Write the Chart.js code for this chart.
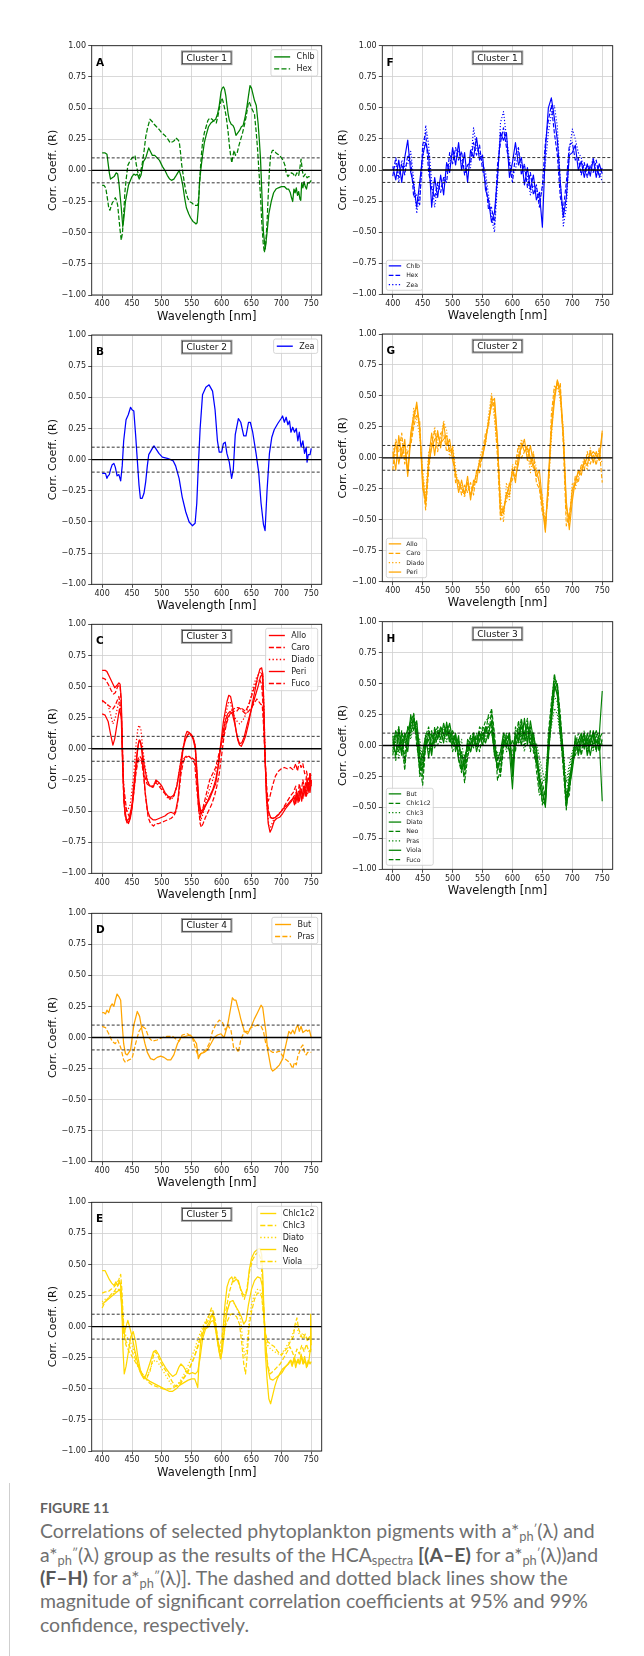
<!DOCTYPE html>
<html><head><meta charset="utf-8">
<script src="https://cdn.jsdelivr.net/npm/chart.js@4.4.1/dist/chart.umd.min.js"></script>
<style>
html,body{margin:0;padding:0;background:#fff;}
body{width:644px;height:1656px;position:relative;overflow:hidden;}
canvas{position:absolute;}
#bar{position:absolute;left:8.5px;top:1483px;width:1.6px;height:173px;background:#cfcfcf;}
#fig{position:absolute;left:40px;top:1501px;font-family:Lato,"Open Sans",sans-serif;font-weight:700;font-size:14px;line-height:14px;color:#606060;white-space:nowrap;}
.cl{position:absolute;left:40px;white-space:nowrap;font-family:Lato,"Open Sans",sans-serif;font-size:18px;line-height:24px;height:24px;color:#707070;}
.cl b{color:#585858;}
.sb{font-size:0.66em;vertical-align:-0.24em;line-height:0;}
.sp{font-size:0.6em;vertical-align:0.42em;line-height:0;}
</style></head><body>
<div id="bar"></div>
<div id="fig">FIGURE 11</div>
<div class="cl" id="l1">Correlations of selected phytoplankton pigments with a*<span class="sb">ph</span><span class="sp">′</span>(λ) and</div>
<div class="cl">a*<span class="sb">ph</span><span class="sp">″</span>(λ) group as the results of the HCA<span class="sb">spectra</span> <b>[(A–E)</b> for a*<span class="sb">ph</span><span class="sp">′</span>(λ))and</div>
<div class="cl"><b>(F–H)</b> for a*<span class="sb">ph</span><span class="sp">″</span>(λ)]. The dashed and dotted black lines show the</div>
<div class="cl">magnitude of significant correlation coefficients at 95% and 99%</div>
<div class="cl">confidence, respectively.</div>
<script>
// ---------- axes ----------
const X_TICKS = [400,450,500,550,600,650,700,750];
const Y_TICKS = [-1,-0.75,-0.5,-0.25,0,0.25,0.5,0.75,1];
const SIG_LEVELS = [0.1,-0.1];
const WL5 = [400,405,410,415,420,425,430,435,440,445,450,455,460,465,470,475,480,485,490,495,500,505,510,515,520,525,530,535,540,545,550,555,560,565,570,575,580,585,590,595,600,605,610,615,620,625,630,635,640,645,650,655,660,665,670,675,680,685,690,695,700,705,710,715,720,725,730,735,740,745,750];

// ---------- panel A (Cluster 1) ----------
const A_Chlb = [[400,0.14],[405,0.14],[408,0.13],[412,-0.02],[414,-0.07],[417,-0.06],[420,-0.05],[423.5,-0.02],[426,-0.03],[428,-0.1],[432,-0.3],[434.5,-0.45],[436,-0.4],[439,-0.25],[444,-0.12],[450,-0.05],[453,-0.03],[456,-0.04],[459,-0.03],[462,-0.07],[465,-0.04],[469,0.07],[473,0.1],[476,0.15],[478,0.18],[481,0.15],[484,0.12],[488,0.12],[492,0.1],[496,0.08],[501,0.03],[505,0.0],[509,-0.04],[513,-0.07],[516,-0.08],[520,-0.07],[524,-0.04],[529,0.0],[532,-0.05],[535,-0.12],[538,-0.22],[541,-0.3],[545,-0.35],[548,-0.38],[552,-0.41],[555,-0.42],[557,-0.43],[559,-0.42],[561,-0.3],[563,-0.1],[565,0.0],[568,0.12],[571,0.22],[574,0.28],[578,0.35],[582,0.38],[587,0.4],[590,0.41],[593,0.45],[596,0.52],[599,0.63],[601,0.66],[603,0.67],[605,0.65],[607,0.6],[609,0.52],[611,0.45],[613,0.4],[616,0.37],[619,0.36],[621,0.34],[624,0.28],[627,0.3],[630,0.32],[633,0.35],[636,0.36],[639,0.42],[642,0.5],[645,0.6],[647.5,0.68],[650,0.66],[652,0.62],[655,0.56],[658,0.52],[661,0.38],[663,0.25],[665,0.1],[667.5,-0.2],[670,-0.5],[673,-0.63],[676,-0.5],[679,-0.35],[683,-0.25],[687,-0.18],[691,-0.15],[695,-0.14],[700,-0.13],[705,-0.13],[709,-0.15],[712,-0.15],[715,-0.18],[717,-0.22],[719,-0.25],[721,-0.15],[723,-0.18],[725,-0.14],[727,-0.2],[729,-0.17],[731,-0.23],[732.5,-0.24],[734,-0.1],[736,-0.14],[738,-0.09],[740,-0.13],[742,-0.15],[744,-0.1],[747,-0.1],[750,-0.08]];
const A_Hex = [[400,-0.12],[403,-0.12],[406,-0.14],[408,-0.2],[411,-0.3],[413,-0.32],[415,-0.29],[417,-0.26],[420,-0.24],[422,-0.22],[424,-0.24],[426,-0.28],[428,-0.38],[430,-0.48],[432,-0.56],[434,-0.5],[436,-0.35],[438,-0.18],[440,-0.08],[443,0.04],[446,0.07],[450,0.1],[453,0.11],[455,0.12],[457,0.05],[459,0.0],[461.5,-0.05],[464,-0.02],[467,0.05],[470,0.15],[473,0.27],[476,0.34],[480,0.41],[484,0.39],[487,0.37],[491,0.35],[495,0.33],[500,0.3],[505,0.28],[510,0.25],[514,0.22],[518,0.23],[521,0.24],[523,0.26],[526,0.25],[529,0.23],[531,0.15],[533,0.05],[536,-0.05],[540,-0.17],[543,-0.22],[546,-0.25],[550,-0.26],[554,-0.28],[558,-0.28],[560,-0.28],[562,-0.2],[564,-0.02],[566,0.12],[568,0.22],[571,0.3],[574,0.35],[577,0.4],[580,0.42],[584,0.41],[588,0.39],[591,0.38],[594,0.44],[597,0.52],[600,0.58],[602,0.56],[604,0.52],[607,0.45],[609,0.38],[611,0.3],[613,0.2],[615,0.12],[617,0.06],[619,0.12],[621,0.16],[623,0.12],[626,0.14],[629,0.2],[632,0.25],[635,0.3],[638,0.36],[641,0.43],[645,0.55],[647,0.54],[650,0.5],[653,0.47],[655,0.45],[658,0.3],[660,0.18],[663,-0.05],[665,-0.2],[667,-0.4],[669.5,-0.58],[671.5,-0.66],[674,-0.58],[676,-0.42],[678,-0.2],[680,0.0],[682,0.12],[685,0.16],[688,0.16],[691,0.14],[694,0.13],[697,0.12],[700,0.1],[703,0.08],[706,0.04],[708,-0.02],[711,-0.05],[714,-0.03],[717,-0.02],[720,-0.03],[723,-0.05],[726,-0.02],[729,-0.04],[731,0.02],[733,0.09],[735,0.0],[737,-0.05],[740,-0.03],[743,-0.06],[746,-0.05],[750,-0.05]];

// ---------- panel B (Cluster 2) ----------
const B_Zea = [[400,-0.11],[403,-0.11],[405.6,-0.11],[408,-0.15],[410,-0.13],[412,-0.12],[414,-0.08],[416.8,-0.04],[419.6,-0.03],[422,-0.06],[425,-0.13],[428,-0.12],[431,-0.17],[433.6,-0.05],[436,0.15],[440,0.32],[443.7,0.36],[447.6,0.42],[450,0.4],[453,0.39],[456,0.2],[458.8,0.0],[461.6,-0.2],[464,-0.31],[467,-0.31],[470,-0.27],[472.8,-0.18],[475.6,-0.05],[478,0.04],[484,0.09],[486.8,0.11],[489.6,0.09],[495,0.05],[500.8,0.02],[509,0.01],[514.8,0.0],[519,-0.01],[523,-0.05],[528.8,-0.15],[534,-0.3],[540,-0.42],[545.6,-0.5],[551,-0.53],[555.6,-0.51],[558.4,-0.35],[561,-0.05],[564,0.25],[568,0.52],[573.6,0.58],[579,0.6],[584.8,0.55],[589,0.4],[593,0.15],[596,0.06],[600,0.06],[603,0.13],[606,0.14],[608.8,0.05],[612.8,-0.02],[616.7,-0.15],[619.5,-0.08],[622.8,0.2],[628,0.33],[632,0.3],[637,0.19],[640.8,0.19],[645,0.3],[648,0.3],[652,0.22],[657.6,0.05],[662,-0.1],[666,-0.35],[670,-0.52],[672.7,-0.57],[676,-0.25],[680,0.05],[684,0.18],[688,0.24],[694,0.29],[699.6,0.33],[702,0.35],[705,0.3],[708,0.34],[711,0.28],[713.6,0.31],[716,0.22],[719,0.26],[722,0.22],[725,0.25],[727.6,0.15],[730,0.22],[733,0.1],[736,0.15],[738.8,0.05],[741.6,0.1],[743,-0.02],[745,0.04],[748,0.04],[750,0.09]];

// ---------- panel C (Cluster 3) ----------
const C_Allo = [[400,0.63],[405,0.63],[408,0.62],[412,0.58],[417,0.53],[421,0.49],[425,0.51],[428,0.53],[430,0.52],[432,0.4],[434,0.0],[436,-0.35],[438,-0.52],[441,-0.58],[444,-0.6],[447,-0.56],[450,-0.48],[454,-0.3],[457,-0.12],[460,0.02],[462,0.07],[464,0.06],[466,0.0],[469,-0.15],[472,-0.35],[476,-0.5],[480,-0.55],[485,-0.57],[490,-0.57],[495,-0.56],[500,-0.55],[505,-0.54],[510,-0.52],[515,-0.51],[520,-0.52],[523,-0.5],[527,-0.4],[531,-0.2],[535,-0.02],[539,0.1],[542,0.14],[546,0.13],[550,0.11],[553,0.08],[556,0.02],[559,-0.2],[562,-0.42],[565,-0.5],[568,-0.49],[572,-0.46],[576,-0.43],[580,-0.4],[585,-0.34],[590,-0.28],[594,-0.15],[597,-0.02],[600,0.1],[603,0.22],[606,0.3],[609,0.38],[612,0.43],[615,0.42],[618,0.35],[621,0.25],[624,0.15],[627,0.07],[630,0.03],[633,0.02],[636,0.05],[640,0.1],[645,0.2],[650,0.33],[655,0.45],[660,0.57],[664,0.64],[667,0.65],[669,0.6],[671,0.3],[673,-0.1],[675,-0.4],[678,-0.6],[681,-0.67],[684,-0.64],[688,-0.58],[692,-0.56],[697,-0.55],[702,-0.52],[707,-0.48],[712,-0.45],[717,-0.42],[721,-0.38],[724,-0.44],[727,-0.36],[730,-0.42],[733,-0.33],[736,-0.4],[739,-0.3],[742,-0.38],[745,-0.27],[748,-0.35],[750,-0.25]];
const C_Caro = [[400,0.57],[405,0.56],[410,0.52],[415,0.47],[419,0.44],[422,0.45],[426,0.5],[430,0.51],[432,0.35],[434,-0.05],[436,-0.4],[439,-0.55],[442,-0.6],[445,-0.58],[449,-0.5],[453,-0.35],[457,-0.18],[460,-0.1],[463,-0.08],[466,-0.1],[469,-0.2],[473,-0.4],[477,-0.55],[481,-0.6],[486,-0.62],[490,-0.6],[495,-0.6],[500,-0.59],[505,-0.58],[510,-0.57],[515,-0.56],[520,-0.54],[524,-0.5],[528,-0.38],[532,-0.2],[536,-0.1],[540,-0.07],[545,-0.06],[550,-0.07],[555,-0.09],[558,-0.2],[561,-0.45],[564,-0.6],[566,-0.63],[569,-0.6],[573,-0.55],[578,-0.5],[583,-0.45],[588,-0.38],[592,-0.3],[596,-0.2],[600,-0.05],[604,0.1],[608,0.2],[612,0.26],[616,0.3],[620,0.32],[624,0.33],[628,0.33],[632,0.32],[636,0.3],[640,0.28],[645,0.3],[650,0.33],[655,0.37],[659,0.4],[662,0.38],[665,0.36],[668,0.35],[670,0.2],[672,0.0],[674,-0.2],[676,-0.35],[678,-0.42],[681,-0.38],[685,-0.3],[690,-0.22],[695,-0.18],[700,-0.16],[705,-0.15],[710,-0.16],[715,-0.15],[720,-0.17],[724,-0.12],[727,-0.18],[730,-0.1],[733,-0.15],[736,-0.12],[739,-0.2],[742,-0.18],[745,-0.25],[748,-0.2],[750,-0.22]];
const C_Diado = [[400,0.38],[405,0.37],[410,0.35],[414,0.28],[418,0.2],[422,0.25],[428,0.38],[432,0.3],[435,-0.2],[438,-0.45],[442,-0.5],[447,-0.45],[453,-0.2],[457,0.05],[460,0.17],[462,0.19],[465,0.15],[468,0.0],[472,-0.15],[476,-0.25],[480,-0.3],[485,-0.3],[490,-0.26],[495,-0.28],[500,-0.32],[505,-0.36],[510,-0.4],[515,-0.41],[520,-0.38],[525,-0.3],[530,-0.15],[535,0.0],[540,0.08],[545,0.12],[550,0.1],[555,0.05],[558,-0.15],[562,-0.5],[565,-0.58],[570,-0.5],[575,-0.4],[580,-0.32],[585,-0.25],[590,-0.18],[595,-0.08],[600,0.05],[604,0.18],[608,0.3],[612,0.38],[615,0.37],[618,0.3],[622,0.25],[626,0.22],[630,0.2],[634,0.22],[638,0.25],[642,0.3],[647,0.38],[652,0.48],[657,0.56],[662,0.6],[666,0.62],[669,0.58],[671,0.3],[673,-0.1],[676,-0.45],[679,-0.62],[682,-0.63],[686,-0.58],[690,-0.55],[700,-0.5],[710,-0.45],[720,-0.4],[725,-0.35],[728,-0.4],[732,-0.32],[736,-0.38],[740,-0.3],[744,-0.36],[748,-0.28],[750,-0.3]];
const C_Peri = [[400,0.28],[405,0.27],[410,0.22],[414,0.12],[418,0.03],[421,0.08],[425,0.2],[429,0.32],[432,0.25],[434,-0.1],[437,-0.45],[441,-0.58],[445,-0.56],[450,-0.45],[454,-0.25],[458,-0.05],[461,0.05],[463,0.07],[466,0.02],[470,-0.12],[475,-0.25],[480,-0.3],[486,-0.3],[490,-0.25],[495,-0.27],[500,-0.3],[505,-0.35],[510,-0.38],[515,-0.39],[520,-0.37],[525,-0.3],[530,-0.15],[535,0.0],[540,0.08],[544,0.12],[548,0.12],[552,0.08],[556,0.0],[559,-0.25],[562,-0.45],[565,-0.52],[569,-0.5],[574,-0.45],[580,-0.38],[585,-0.33],[590,-0.25],[595,-0.12],[598,0.0],[602,0.12],[606,0.22],[610,0.28],[614,0.3],[618,0.28],[622,0.2],[626,0.1],[630,0.04],[634,0.05],[638,0.1],[643,0.2],[650,0.32],[656,0.42],[661,0.5],[665,0.58],[668,0.6],[670,0.4],[672,0.0],[675,-0.35],[678,-0.5],[682,-0.55],[686,-0.56],[690,-0.55],[695,-0.53],[700,-0.5],[705,-0.47],[710,-0.45],[715,-0.42],[719,-0.4],[722,-0.45],[725,-0.35],[728,-0.43],[731,-0.33],[734,-0.42],[737,-0.3],[740,-0.38],[743,-0.25],[746,-0.35],[748,-0.2],[750,-0.3]];
const C_Fuco = [[400,0.39],[405,0.37],[410,0.35],[418,0.32],[422,0.35],[428,0.42],[432,0.3],[436,-0.3],[441,-0.5],[446,-0.55],[450,-0.45],[455,-0.2],[460,-0.08],[463,-0.06],[466,-0.08],[470,-0.2],[475,-0.28],[480,-0.3],[485,-0.31],[490,-0.27],[495,-0.3],[500,-0.33],[505,-0.36],[510,-0.39],[515,-0.4],[520,-0.38],[525,-0.3],[530,-0.18],[535,-0.09],[540,-0.06],[545,-0.06],[550,-0.08],[555,-0.12],[558,-0.3],[562,-0.5],[565,-0.55],[570,-0.45],[575,-0.35],[580,-0.25],[585,-0.2],[590,-0.15],[595,-0.05],[600,0.05],[605,0.15],[610,0.25],[615,0.28],[620,0.3],[625,0.3],[630,0.33],[635,0.32],[640,0.3],[645,0.35],[650,0.42],[655,0.5],[660,0.55],[664,0.55],[667,0.52],[670,0.3],[673,-0.1],[676,-0.4],[680,-0.55],[685,-0.56],[690,-0.55],[695,-0.53],[700,-0.5],[705,-0.46],[710,-0.42],[715,-0.38],[720,-0.35],[724,-0.3],[727,-0.4],[730,-0.28],[733,-0.35],[736,-0.25],[739,-0.33],[742,-0.22],[745,-0.3],[748,-0.2],[750,-0.28]];

// ---------- panel D (Cluster 4) ----------
const D_But = [[400,0.2],[403,0.2],[405.6,0.19],[408,0.22],[411,0.2],[414,0.25],[416.8,0.27],[419.6,0.25],[422,0.3],[425,0.35],[428,0.33],[431,0.3],[433.6,0.1],[436,-0.05],[439,-0.13],[442,-0.14],[447.6,-0.1],[453,0.1],[458.8,0.21],[462.7,0.17],[467,0.05],[471.7,-0.05],[475.6,-0.12],[481,-0.17],[486.8,-0.18],[492,-0.16],[498,-0.15],[503.6,-0.16],[509,-0.18],[514.8,-0.18],[520,-0.14],[526,-0.05],[531.6,0.0],[540,0.01],[548,0.02],[554,-0.02],[558,-0.05],[561,-0.17],[565,-0.13],[570.8,-0.12],[576,-0.1],[582,-0.05],[587.6,0.0],[593,0.02],[599,0.03],[604,0.0],[610,0.1],[615.6,0.25],[618,0.32],[621,0.3],[624,0.3],[629.6,0.2],[632,0.15],[638,0.05],[643.6,0.03],[649,0.08],[654.8,0.15],[660,0.2],[666,0.26],[668.8,0.24],[674,0.05],[677,-0.1],[682.8,-0.25],[685.6,-0.27],[691,-0.25],[696.8,-0.22],[702.4,-0.17],[708,-0.05],[712.5,0.05],[716,0.03],[719,0.06],[722,0.03],[725,0.08],[727.6,0.1],[730,0.05],[733,0.09],[736,0.04],[738.8,0.05],[741.6,0.06],[744,0.05],[747,0.06],[750,0.0]];
const D_Pras = [[400,0.09],[405.6,0.08],[411,0.03],[416.8,-0.03],[422,-0.05],[426,-0.02],[431,-0.08],[436,-0.18],[439,-0.2],[444.8,-0.18],[450,-0.17],[456,-0.05],[461.6,0.05],[467,0.09],[472.8,0.07],[478,0.0],[484,-0.03],[492,-0.02],[500.8,0.0],[509,0.01],[517.6,0.01],[523,-0.01],[528.8,-0.03],[534,0.02],[542.8,0.03],[551,0.0],[556.8,-0.1],[561,-0.15],[568,-0.12],[573.6,-0.1],[579,-0.05],[584.8,0.05],[590,0.1],[596,0.14],[601.6,0.12],[606,0.06],[610,0.1],[615.6,0.06],[620,-0.08],[624,-0.08],[628,-0.12],[632,-0.02],[638,0.05],[643.6,0.05],[649,0.08],[654.8,0.09],[660,0.1],[666,0.09],[670,0.05],[674,-0.05],[680,-0.1],[685.6,-0.12],[691,-0.12],[696.8,-0.11],[702.4,-0.15],[708,-0.18],[713.6,-0.2],[719,-0.25],[722,-0.2],[725,-0.22],[727.6,-0.15],[730,-0.12],[733,-0.08],[736,-0.06],[738.8,-0.12],[741.6,-0.14],[744,-0.12],[750,-0.12]];

// ---------- panel E (Cluster 5) ----------
const E_Chlc1c2 = [[400,0.45],[405,0.45],[408,0.42],[412,0.38],[416,0.35],[420,0.33],[423,0.36],[426,0.33],[429,0.37],[431,0.34],[433,0.15],[435,-0.2],[437,-0.38],[440,-0.32],[444,-0.2],[448,-0.08],[452,-0.04],[456,-0.12],[460,-0.25],[464,-0.35],[468,-0.4],[474,-0.42],[480,-0.44],[488,-0.46],[496,-0.48],[504,-0.5],[512,-0.52],[518,-0.52],[524,-0.5],[530,-0.47],[537,-0.45],[544,-0.43],[550,-0.42],[555,-0.42],[558,-0.46],[560,-0.49],[562,-0.3],[565,-0.12],[570,-0.03],[575,0.0],[580,0.04],[584,0.1],[587,0.06],[590,0.0],[593,-0.1],[596,-0.2],[599,-0.25],[602,-0.05],[605,0.15],[609,0.32],[613,0.38],[617,0.4],[620,0.36],[624,0.38],[628,0.37],[632,0.3],[636,0.26],[640,0.25],[643,0.3],[646,0.45],[650,0.55],[655,0.6],[660,0.62],[664,0.63],[667,0.58],[669,0.4],[671,0.1],[673,-0.2],[676,-0.42],[679,-0.58],[682,-0.62],[685,-0.56],[689,-0.48],[693,-0.42],[697,-0.38],[702,-0.34],[707,-0.32],[712,-0.3],[716,-0.27],[719,-0.3],[722,-0.25],[725,-0.3],[728,-0.26],[731,-0.3],[734,-0.24],[737,-0.3],[740,-0.27],[743,-0.32],[746,-0.28],[748,-0.2],[749,0.1],[750,-0.15]];
const E_Chlc3 = [[400,0.27],[405,0.28],[410,0.28],[415,0.3],[420,0.32],[425,0.35],[428,0.38],[431,0.42],[433,0.3],[435,0.1],[437,-0.05],[440,-0.12],[445,-0.15],[450,-0.2],[455,-0.25],[460,-0.32],[465,-0.38],[470,-0.41],[475,-0.41],[480,-0.36],[485,-0.25],[488,-0.2],[492,-0.22],[497,-0.28],[503,-0.33],[510,-0.38],[517,-0.44],[523,-0.48],[530,-0.47],[536,-0.42],[542,-0.38],[548,-0.32],[554,-0.25],[560,-0.15],[566,-0.06],[572,0.02],[578,0.08],[583,0.15],[586,0.12],[590,0.03],[594,-0.12],[598,-0.2],[602,-0.12],[606,0.0],[610,0.05],[615,0.1],[620,0.1],[625,0.08],[630,0.02],[634,-0.15],[637,-0.3],[640,-0.38],[643,-0.22],[646,0.0],[650,0.12],[655,0.22],[660,0.27],[664,0.27],[667,0.24],[670,0.1],[673,-0.05],[677,-0.12],[682,-0.14],[688,-0.16],[694,-0.2],[700,-0.23],[705,-0.2],[710,-0.17],[715,-0.12],[720,-0.08],[723,0.02],[726,0.07],[729,-0.02],[732,-0.06],[736,-0.1],[740,-0.06],[744,-0.12],[747,-0.08],[750,-0.1]];
const E_Diato = [[400,0.2],[405,0.22],[410,0.23],[415,0.25],[420,0.27],[425,0.29],[430,0.31],[433,0.2],[436,0.0],[440,-0.08],[445,-0.1],[450,-0.15],[455,-0.22],[460,-0.3],[465,-0.36],[470,-0.4],[475,-0.4],[480,-0.35],[485,-0.28],[490,-0.27],[495,-0.3],[500,-0.34],[505,-0.38],[510,-0.42],[515,-0.46],[520,-0.48],[525,-0.47],[530,-0.44],[535,-0.4],[540,-0.36],[545,-0.3],[550,-0.24],[555,-0.18],[560,-0.1],[565,-0.04],[570,0.02],[575,0.06],[580,0.1],[584,0.13],[587,0.08],[591,-0.05],[595,-0.18],[598,-0.24],[602,-0.12],[606,0.05],[610,0.15],[614,0.2],[618,0.21],[623,0.17],[628,0.12],[632,0.05],[636,-0.15],[639,-0.25],[642,-0.18],[646,0.05],[650,0.18],[655,0.26],[660,0.3],[664,0.3],[667,0.26],[670,0.12],[673,-0.05],[677,-0.15],[682,-0.18],[688,-0.2],[695,-0.22],[700,-0.22],[706,-0.18],[712,-0.13],[717,-0.08],[721,-0.03],[725,0.02],[728,-0.04],[732,-0.08],[736,-0.05],[740,-0.1],[745,-0.08],[750,-0.12]];
const E_Neo = [[400,0.18],[405,0.2],[410,0.22],[415,0.24],[420,0.26],[425,0.28],[430,0.3],[432,0.2],[434,0.05],[437,-0.05],[440,0.0],[443,0.05],[447,-0.02],[451,-0.1],[455,-0.2],[460,-0.3],[465,-0.38],[470,-0.42],[474,-0.38],[478,-0.32],[482,-0.26],[486,-0.2],[490,-0.19],[494,-0.22],[500,-0.28],[506,-0.33],[512,-0.37],[518,-0.4],[524,-0.38],[528,-0.33],[532,-0.3],[536,-0.32],[541,-0.36],[546,-0.38],[551,-0.37],[556,-0.38],[560,-0.36],[564,-0.25],[568,-0.1],[573,-0.02],[578,0.0],[582,0.04],[586,0.05],[590,-0.03],[594,-0.15],[598,-0.26],[601,-0.2],[605,-0.02],[609,0.12],[614,0.2],[619,0.21],[624,0.16],[629,0.12],[633,0.08],[637,0.02],[641,0.05],[645,0.18],[650,0.3],[655,0.37],[660,0.4],[665,0.39],[668,0.33],[671,0.1],[674,-0.15],[677,-0.32],[681,-0.42],[686,-0.43],[691,-0.41],[696,-0.39],[701,-0.37],[706,-0.33],[711,-0.3],[715,-0.27],[718,-0.32],[721,-0.25],[724,-0.33],[727,-0.27],[730,-0.3],[733,-0.22],[736,-0.3],[739,-0.24],[742,-0.33],[745,-0.27],[748,-0.3],[750,-0.28]];
const E_Viola = [[400,0.15],[405,0.2],[410,0.23],[415,0.26],[420,0.28],[425,0.32],[430,0.36],[432,0.3],[434,0.12],[436,-0.05],[440,-0.15],[445,-0.2],[450,-0.24],[455,-0.28],[460,-0.32],[466,-0.37],[472,-0.41],[478,-0.45],[484,-0.47],[490,-0.48],[496,-0.49],[502,-0.5],[508,-0.5],[514,-0.5],[520,-0.49],[526,-0.47],[532,-0.44],[538,-0.4],[544,-0.35],[550,-0.29],[556,-0.22],[562,-0.14],[568,-0.06],[574,0.02],[580,0.07],[584,0.1],[588,0.07],[592,-0.05],[596,-0.18],[600,-0.1],[604,0.05],[608,0.15],[613,0.28],[618,0.36],[622,0.4],[626,0.38],[630,0.33],[634,0.26],[638,0.22],[642,0.3],[647,0.45],[652,0.54],[657,0.58],[661,0.6],[665,0.55],[668,0.4],[671,0.1],[674,-0.15],[677,-0.3],[681,-0.38],[686,-0.36],[692,-0.33],[698,-0.3],[704,-0.25],[710,-0.2],[714,-0.16],[718,-0.2],[722,-0.25],[726,-0.18],[730,-0.22],[734,-0.15],[738,-0.2],[742,-0.14],[746,-0.2],[750,-0.18]];

// ---------- panel F (Cluster 1, second spectra), values on WL5 ----------
const F_Chlb = [0.03,-0.08,0.08,-0.1,0.1,0.24,-0.02,-0.12,-0.3,-0.1,
 0.12,0.22,0.12,-0.3,-0.06,-0.22,-0.04,-0.2,0.06,-0.02,
 0.18,0.04,0.22,0.0,0.14,-0.1,0.16,0.1,0.26,0.08,
 0.12,-0.16,-0.24,-0.42,-0.34,-0.06,0.3,0.24,0.3,-0.06,
 0.06,0.22,0.04,0.1,-0.12,0.02,-0.16,-0.04,-0.24,-0.18,
 -0.46,0.16,0.5,0.58,0.42,0.24,-0.1,-0.38,-0.22,0.12,
 0.14,0.2,0.0,0.07,-0.06,0.05,-0.05,0.09,-0.06,0.05,
 -0.03];
const F_Hex = [-0.05,0.1,-0.06,0.05,-0.04,0.12,0.08,-0.22,-0.2,-0.28,
 0.2,0.3,-0.02,-0.15,-0.22,-0.1,-0.18,-0.06,-0.1,0.14,
 0.05,0.18,0.08,0.15,-0.04,0.04,0.06,0.22,0.12,0.2,
 0.0,-0.08,-0.32,-0.3,-0.44,0.04,0.22,0.34,0.18,0.05,
 -0.1,0.12,0.18,-0.04,0.05,-0.14,-0.02,-0.2,-0.12,-0.3,
 -0.12,0.22,0.4,0.52,0.3,0.12,-0.22,-0.32,-0.1,0.2,
 0.22,0.08,0.1,-0.04,0.06,-0.06,0.04,-0.02,0.08,-0.06,
 0.02];
const F_Zea = [0.0,0.05,-0.1,0.08,0.02,0.05,0.15,-0.08,-0.35,-0.2,
 0.05,0.36,0.2,-0.1,-0.3,-0.12,-0.14,-0.1,0.0,0.04,
 0.14,0.1,0.15,0.06,0.02,0.0,0.02,0.34,0.18,0.14,
 0.06,-0.02,-0.2,-0.38,-0.5,-0.1,0.38,0.47,0.26,0.08,
 -0.04,0.0,0.15,0.05,-0.02,-0.05,-0.2,-0.12,-0.15,-0.25,
 -0.15,0.05,0.3,0.45,0.52,0.35,-0.1,-0.45,-0.3,0.15,
 0.33,0.25,0.14,0.1,-0.02,0.04,0.0,0.1,-0.02,0.0,
 -0.1];

// ---------- panel G (Cluster 2, second spectra) ----------
const G_Allo = [0.05,-0.1,0.18,0.0,0.15,-0.12,0.2,0.35,0.42,0.22,
 -0.15,-0.38,0.0,0.2,0.02,0.22,0.08,0.28,0.1,0.15,
 -0.02,-0.12,-0.28,-0.18,-0.3,-0.15,-0.34,-0.18,-0.2,-0.02,
 0.02,0.12,0.3,0.42,0.45,0.12,-0.4,-0.45,-0.28,-0.3,
 -0.08,-0.2,0.02,0.08,0.15,-0.02,0.1,-0.05,-0.15,-0.1,
 -0.35,-0.58,-0.15,0.25,0.5,0.62,0.5,0.15,-0.4,-0.5,
 -0.25,-0.22,-0.1,-0.14,-0.02,-0.06,0.06,-0.04,0.05,-0.02,
 0.2];
const G_Caro = [-0.1,0.15,0.05,0.2,-0.05,0.05,0.1,0.25,0.35,0.3,
 -0.2,-0.42,-0.1,0.12,0.22,0.05,0.2,0.2,0.05,0.08,
 0.05,-0.2,-0.18,-0.3,-0.22,-0.28,-0.2,-0.3,-0.1,-0.12,
 0.05,0.2,0.25,0.5,0.38,0.0,-0.5,-0.38,-0.35,-0.2,
 -0.18,-0.05,0.1,0.0,0.05,0.1,-0.05,0.05,-0.2,-0.25,
 -0.45,-0.5,-0.3,0.35,0.58,0.55,0.6,0.1,-0.55,-0.45,
 -0.3,-0.15,-0.2,-0.05,-0.1,0.05,-0.05,0.03,-0.06,0.08,
 -0.2];
const G_Diado = [0.1,0.0,0.12,0.15,-0.02,0.1,0.12,0.4,0.3,0.18,
 -0.1,-0.3,0.05,0.1,0.25,0.12,0.15,0.3,0.22,0.0,
 0.1,-0.08,-0.25,-0.22,-0.32,-0.2,-0.25,-0.25,-0.15,0.0,
 0.08,0.1,0.35,0.52,0.3,0.05,-0.3,-0.52,-0.2,-0.35,
 -0.05,-0.1,0.05,0.15,0.08,0.05,-0.12,0.02,-0.08,-0.22,
 -0.3,-0.55,-0.25,0.15,0.55,0.6,0.45,0.25,-0.45,-0.55,
 -0.2,-0.25,-0.15,-0.08,0.0,-0.1,0.08,-0.02,0.0,0.05,
 -0.05];
const G_Peri = [0.0,0.12,-0.05,0.08,0.1,-0.15,0.15,0.3,0.45,0.25,
 -0.25,-0.35,-0.05,0.08,0.15,0.18,0.12,0.15,0.18,0.05,
 0.08,-0.15,-0.2,-0.25,-0.28,-0.2,-0.3,-0.22,-0.12,-0.05,
 0.0,0.15,0.28,0.45,0.48,0.15,-0.45,-0.42,-0.3,-0.22,
 -0.12,-0.15,-0.05,0.12,0.05,0.08,0.0,-0.08,-0.1,-0.2,
 -0.4,-0.6,-0.2,0.2,0.45,0.63,0.55,0.2,-0.35,-0.58,
 -0.35,-0.18,-0.12,-0.1,-0.05,0.0,0.02,0.05,0.02,-0.02,
 0.22];

// ---------- panel H (Cluster 3, second spectra) ----------
const H_But = [0.05,-0.08,0.15,-0.05,0.08,0.12,0.2,0.25,0.05,-0.2,
 -0.05,0.08,-0.1,0.1,0.02,0.12,0.05,0.18,0.08,0.12,
 0.02,0.08,-0.1,-0.2,-0.12,0.02,-0.05,0.08,0.0,0.1,
 0.05,0.15,0.08,0.12,-0.05,-0.18,-0.1,0.05,-0.02,0.08,
 -0.2,0.1,0.02,0.2,0.05,0.18,0.0,0.1,-0.05,-0.3,
 -0.4,-0.45,-0.05,0.2,0.45,0.5,0.15,-0.1,-0.45,-0.3,
 -0.12,0.05,-0.05,0.08,-0.03,0.1,0.0,0.12,0.02,0.08,
 0.44];
const H_Chlc1c2 = [-0.05,0.1,0.0,0.12,-0.15,0.05,0.15,0.22,0.1,-0.1,
 -0.25,0.05,0.12,-0.05,0.15,0.05,0.15,0.1,0.15,0.02,
 0.1,-0.05,0.05,-0.15,-0.25,-0.05,0.05,-0.02,0.1,0.02,
 0.15,0.1,0.25,0.28,0.05,-0.1,-0.25,-0.02,0.08,-0.05,
 0.05,-0.05,0.15,0.08,0.2,0.05,0.15,-0.05,-0.15,-0.2,
 -0.48,-0.35,0.05,0.3,0.58,0.45,0.1,-0.2,-0.52,-0.25,
 -0.15,-0.05,0.05,-0.08,0.05,-0.05,0.1,0.0,0.08,-0.03,
 0.05];
const H_Chlc3 = [0.1,0.02,-0.1,0.08,0.0,0.15,0.05,0.18,0.15,0.0,
 -0.15,0.1,-0.05,0.08,0.1,0.15,0.0,0.1,0.02,0.15,
 0.05,0.0,-0.05,0.05,-0.18,-0.08,0.08,0.0,0.05,0.12,
 0.0,0.05,0.18,0.15,-0.08,-0.05,-0.15,0.08,0.0,0.02,
 -0.1,0.12,0.0,0.1,-0.05,0.12,0.08,0.02,-0.1,-0.15,
 -0.3,-0.25,0.0,0.2,0.4,0.35,0.05,-0.15,-0.4,-0.2,
 -0.08,0.0,0.1,0.02,0.12,0.0,0.06,-0.05,0.1,0.0,
 0.02];
const H_Diato = [0.0,0.12,0.05,-0.08,0.1,0.0,0.25,0.12,0.2,-0.05,
 -0.1,-0.02,0.1,0.0,0.05,0.1,0.12,0.02,0.19,0.05,
 0.0,0.1,-0.08,-0.05,-0.2,0.05,0.0,0.1,-0.05,0.05,
 0.1,0.02,0.1,0.2,0.0,-0.12,-0.05,0.1,0.05,-0.05,
 -0.35,0.05,0.1,0.0,0.22,0.0,0.2,0.05,-0.02,-0.25,
 -0.35,-0.5,-0.1,0.25,0.5,0.4,0.2,-0.05,-0.48,-0.35,
 -0.2,-0.02,0.03,0.1,0.0,0.06,-0.08,0.05,0.12,0.05,
 -0.45];
const H_Neo = [0.08,-0.12,0.1,0.02,-0.2,0.1,0.08,0.26,0.0,-0.15,
 -0.32,0.0,0.05,0.12,-0.02,0.08,0.1,0.05,0.12,0.1,
 -0.05,0.05,0.0,-0.1,-0.3,-0.1,0.02,0.05,0.08,-0.05,
 0.08,0.15,0.05,0.3,0.1,-0.28,-0.2,0.0,0.1,0.05,
 -0.15,0.0,0.2,0.05,0.1,0.22,-0.05,0.1,-0.08,-0.35,
 -0.3,-0.42,0.1,0.35,0.55,0.5,0.25,-0.08,-0.45,-0.4,
 -0.1,-0.08,0.0,0.05,0.08,-0.05,0.05,0.08,-0.05,0.1,
 0.0];
const H_Pras = [-0.02,0.05,0.15,0.0,0.05,0.08,0.12,0.15,0.08,0.05,
 -0.12,0.05,0.0,0.05,0.08,0.0,0.05,0.15,0.05,0.08,
 0.1,0.02,0.0,-0.08,-0.1,0.0,0.08,0.02,0.02,0.08,
 0.05,0.08,0.12,0.1,-0.02,-0.08,-0.05,0.05,-0.05,0.0,
 -0.05,0.08,0.05,0.12,0.1,0.05,0.1,0.0,0.02,-0.1,
 -0.2,-0.3,-0.05,0.15,0.3,0.25,0.08,-0.05,-0.3,-0.15,
 -0.05,0.02,0.05,0.0,0.05,0.02,0.0,0.05,0.0,0.02,
 0.0];
const H_Viola = [0.03,0.0,-0.05,0.1,0.05,-0.05,0.18,0.2,0.12,-0.08,
 -0.2,0.02,0.05,-0.08,0.12,0.05,0.15,0.08,0.1,0.18,
 0.05,-0.02,0.08,-0.18,-0.15,0.0,-0.05,0.05,0.05,0.1,
 0.0,0.12,0.15,0.18,-0.08,-0.15,-0.22,0.02,0.05,0.1,
 -0.25,0.08,0.05,0.15,0.08,0.1,0.12,-0.02,-0.12,-0.28,
 -0.45,-0.48,-0.02,0.22,0.48,0.42,0.12,-0.12,-0.5,-0.28,
 -0.15,0.05,-0.08,0.03,0.1,-0.08,0.02,0.1,-0.03,0.05,
 0.1];
const H_Fuco = [-0.08,0.08,-0.02,0.06,-0.1,0.15,0.1,0.2,0.18,-0.25,
 -0.15,0.08,0.15,-0.02,0.08,0.15,0.08,0.12,0.15,0.05,
 0.12,0.05,-0.12,-0.22,-0.08,-0.05,0.08,0.1,-0.02,0.15,
 0.12,0.2,0.22,0.25,0.0,-0.2,-0.12,0.08,0.0,0.1,
 -0.18,0.15,0.08,0.22,0.0,0.15,0.05,0.08,-0.2,-0.4,
 -0.38,-0.4,0.0,0.28,0.52,0.48,0.18,-0.15,-0.42,-0.3,
 -0.18,0.08,0.0,-0.05,0.08,0.0,0.12,-0.02,0.05,-0.05,
 0.05];

// ---------- caption layout (fit line 1 to reference width) ----------
(function(){
  const lines = Array.from(document.querySelectorAll('.cl'));
  const w = document.getElementById('l1').getBoundingClientRect().width;
  const fs = 18 * 555 / w;
  const baselines = [1538.7, 1562.1, 1585.5, 1608.9, 1632.3];
  lines.forEach((el,i)=>{
    el.style.fontSize = fs+'px';
    el.style.top = (baselines[i] - ((24 - 1.2*fs)/2 + 0.987*fs)) + 'px';
  });
})();

// ---------- layout (styles only) ----------
const GREEN='#008000', BLUE='#0000ff', RED='#ff0000', ORANGE='#ffa500', GOLD='#ffd700';
const COLS = [
  {cl:0, w:330, pl:91.7, pr:321.7, ytPad:46.1, lf:8, ls:12, lw:1.25},
  {cl:330, w:314, pl:382.3, pr:612.7, ytPad:6.7, lf:6.2, ls:9.4, lw:1.15}
];
const PANELS = [
  {letter:'A', cluster:'Cluster 1', col:0, top:45.7, bottom:295, color:GREEN, leg:'ur',
   series:[['Chlb',A_Chlb,'-'],['Hex',A_Hex,'--']]},
  {letter:'B', cluster:'Cluster 2', col:0, top:335, bottom:584.3, color:BLUE, leg:'ur',
   series:[['Zea',B_Zea,'-']]},
  {letter:'C', cluster:'Cluster 3', col:0, top:624.3, bottom:873.3, color:RED, leg:'ur',
   series:[['Allo',C_Allo,'-'],['Caro',C_Caro,'--'],['Diado',C_Diado,':'],['Peri',C_Peri,'-'],['Fuco',C_Fuco,'--']]},
  {letter:'D', cluster:'Cluster 4', col:0, top:913.3, bottom:1161.7, color:ORANGE, leg:'ur',
   series:[['But',D_But,'-'],['Pras',D_Pras,'--']]},
  {letter:'E', cluster:'Cluster 5', col:0, top:1202.3, bottom:1451, color:GOLD, leg:'ur',
   series:[['Chlc1c2',E_Chlc1c2,'-'],['Chlc3',E_Chlc3,'--'],['Diato',E_Diato,':'],['Neo',E_Neo,'-'],['Viola',E_Viola,'--']]},
  {letter:'F', cluster:'Cluster 1', col:1, top:45.7, bottom:294.3, color:BLUE, leg:'ll',
   series:[['Chlb',F_Chlb,'-'],['Hex',F_Hex,'--'],['Zea',F_Zea,':']]},
  {letter:'G', cluster:'Cluster 2', col:1, top:334, bottom:581.7, color:ORANGE, leg:'ll',
   series:[['Allo',G_Allo,'-'],['Caro',G_Caro,'--'],['Diado',G_Diado,':'],['Peri',G_Peri,'-']]},
  {letter:'H', cluster:'Cluster 3', col:1, top:621.7, bottom:869.3, color:GREEN, leg:'ll',
   series:[['But',H_But,'-'],['Chlc1c2',H_Chlc1c2,'--'],['Chlc3',H_Chlc3,':'],['Diato',H_Diato,'-'],['Neo',H_Neo,'--'],['Pras',H_Pras,':'],['Viola',H_Viola,'-'],['Fuco',H_Fuco,'--']]}
];

const XMIN = 382.5, XMAX = 767.5;
const FONT = '"DejaVu Sans", "Liberation Sans", sans-serif';
function dashFor(s, lw){ return s==='--' ? [3.7*lw,1.6*lw] : s===':' ? [1*lw,1.65*lw] : []; }
function toPts(d){ return Array.isArray(d[0]) ? d.map(p=>({x:p[0],y:p[1]})) : d.map((v,i)=>({x:WL5[i],y:v})); }

function roundRect(ctx,x,y,w,h,r){
  ctx.beginPath(); ctx.moveTo(x+r,y); ctx.lineTo(x+w-r,y); ctx.quadraticCurveTo(x+w,y,x+w,y+r);
  ctx.lineTo(x+w,y+h-r); ctx.quadraticCurveTo(x+w,y+h,x+w-r,y+h); ctx.lineTo(x+r,y+h);
  ctx.quadraticCurveTo(x,y+h,x,y+h-r); ctx.lineTo(x,y+r); ctx.quadraticCurveTo(x,y,x+r,y); ctx.closePath();
}

const deco = {
  id:'deco',
  afterDraw(chart){
    const o = chart.options.plugins.deco;
    const {ctx, chartArea:a} = chart;
    ctx.save();
    ctx.strokeStyle='#1a1a1a'; ctx.lineWidth=0.9; ctx.setLineDash([]);
    ctx.strokeRect(a.left, a.top, a.right-a.left, a.bottom-a.top);
    ctx.fillStyle='#000'; ctx.font='bold 10.5px '+FONT; ctx.textAlign='left'; ctx.textBaseline='middle';
    ctx.fillText(o.letter, a.left+4.2, a.top+17.2);
    ctx.font='9px '+FONT;
    const tw = ctx.measureText(o.cluster).width;
    const bw = tw+9, bh = 12.7, cx = (a.left+a.right)/2, cy = a.top+12.1;
    ctx.fillStyle='#fff'; ctx.fillRect(cx-bw/2, cy-bh/2, bw, bh);
    ctx.strokeStyle='#9a9a9a'; ctx.lineWidth=1; ctx.strokeRect(cx-bw/2-0.5, cy-bh/2-0.5, bw+1, bh+1);
    ctx.strokeStyle='#333'; ctx.lineWidth=0.9; ctx.strokeRect(cx-bw/2+0.4, cy-bh/2+0.4, bw-0.8, bh-0.8);
    ctx.fillStyle='#111'; ctx.textAlign='center'; ctx.fillText(o.cluster, cx, cy+0.5);
    const C = o.colDef, f = C.lf, s = C.ls, n = o.series.length;
    ctx.font = f+'px '+FONT;
    const tmax = Math.max(...o.series.map(se=>ctx.measureText(se[0]).width));
    const w = 3.6*f + tmax, h = 0.3*f + n*s;
    let lx, ly;
    if (o.leg==='ur'){ lx = a.right-4-w; ly = a.top+4; } else { lx = a.left+4; ly = a.bottom-4-h; }
    roundRect(ctx, lx, ly, w, h, 2);
    ctx.fillStyle='rgba(255,255,255,0.8)'; ctx.fill();
    ctx.strokeStyle='#cccccc'; ctx.lineWidth=0.8; ctx.stroke();
    o.series.forEach((se,i)=>{
      const yy = ly + 0.4*f + (s-0.5*f)/2 + i*s;
      ctx.strokeStyle=o.color; ctx.lineWidth=C.lw*1.1; ctx.setLineDash(dashFor(se[2], C.lw*1.1));
      ctx.beginPath(); ctx.moveTo(lx+0.4*f, yy); ctx.lineTo(lx+2.4*f, yy); ctx.stroke();
      ctx.setLineDash([]);
      ctx.fillStyle='#222'; ctx.textAlign='left'; ctx.textBaseline='middle';
      ctx.fillText(se[0], lx+3.2*f, yy+0.3);
    });
    ctx.restore();
  }
};

PANELS.forEach(p=>{
  const C = COLS[p.col];
  const cTop = Math.floor(p.top) - 8;
  const XH = 36;
  const cH = Math.ceil(p.bottom + XH + 2 - cTop);
  const padTop = p.top - cTop;
  const padBottom = cH - (p.bottom - cTop) - XH;
  const yW = C.pl - C.cl;
  const padRight = C.w - (C.pr - C.cl);
  const cv = document.createElement('canvas');
  cv.width = C.w; cv.height = cH;
  cv.style.left = C.cl+'px'; cv.style.top = cTop+'px';
  cv.style.width = C.w+'px'; cv.style.height = cH+'px';
  document.body.appendChild(cv);

  const datasets = p.series.map(se=>({
    label: se[0], data: toPts(se[1]), borderColor: p.color, borderWidth: C.lw,
    borderDash: dashFor(se[2], C.lw), pointRadius: 0, fill: false, tension: 0,
    borderJoinStyle: 'round', order: 1
  }));
  datasets.push({label:'_zero', data:[{x:XMIN,y:0},{x:XMAX,y:0}], borderColor:'#000', borderWidth:1.4, pointRadius:0, order:0});
  SIG_LEVELS.forEach(v=>datasets.push({label:'_sig', data:[{x:XMIN,y:v},{x:XMAX,y:v}], borderColor:'#000', borderWidth:0.8, borderDash:[3,2], pointRadius:0, order:0}));

  new Chart(cv, {
    type:'line',
    data:{datasets},
    plugins:[deco],
    options:{
      responsive:false, maintainAspectRatio:false, animation:false, devicePixelRatio:1,
      layout:{padding:{top:padTop, right:padRight, bottom:padBottom, left:0}},
      plugins:{legend:{display:false}, tooltip:{enabled:false},
        deco:{letter:p.letter, cluster:p.cluster, leg:p.leg, series:p.series, color:p.color, colDef:C}},
      scales:{
        x:{type:'linear', min:XMIN, max:XMAX,
          afterBuildTicks:s=>{ s.ticks = X_TICKS.map(v=>({value:v})); },
          afterFit:s=>{ s.height = XH; },
          ticks:{autoSkip:false, maxRotation:0, minRotation:0, padding:1, color:'#222', font:{family:FONT, size:8}, callback:v=>String(v)},
          grid:{color:'#cfcfcf', lineWidth:0.8, tickColor:'#222', tickLength:3.5, tickWidth:0.8, drawTicks:true},
          border:{display:false},
          title:{display:true, text:'Wavelength [nm]', color:'#111', font:{family:FONT, size:11.5}, padding:{top:0, bottom:7.4}}
        },
        y:{type:'linear', min:-1, max:1,
          afterBuildTicks:s=>{ s.ticks = Y_TICKS.map(v=>({value:v})); },
          afterFit:s=>{ s.width = yW; },
          ticks:{autoSkip:false, padding:2.2, color:'#222', font:{family:FONT, size:8},
            callback:v=>(v<0?'\u2212':'')+Math.abs(v).toFixed(2)},
          grid:{color:'#cfcfcf', lineWidth:0.8, tickColor:'#222', tickLength:3.5, tickWidth:0.8, drawTicks:true},
          border:{display:false},
          title:{display:true, text:'Corr. Coeff. (R)', color:'#111', font:{family:FONT, size:11}, padding:{top:C.ytPad, bottom:0}}
        }
      }
    }
  });
});
</script>
</body></html>
